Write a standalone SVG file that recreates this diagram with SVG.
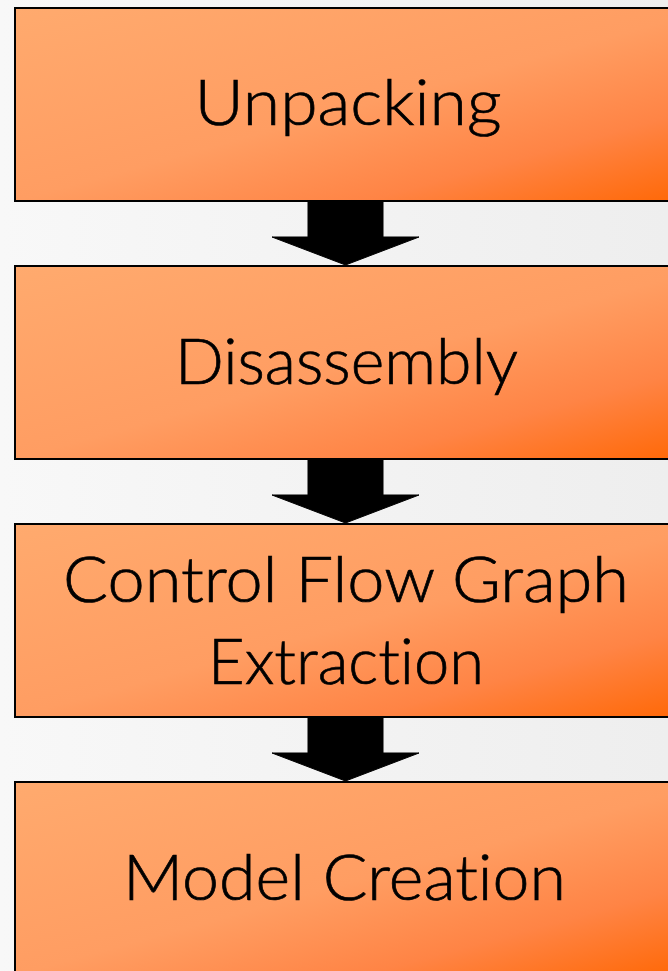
<svg xmlns="http://www.w3.org/2000/svg" width="668" height="971" viewBox="0 0 668 971">
  <defs>
    <linearGradient id="bg" x1="0" y1="0" x2="1" y2="0">
      <stop offset="0" stop-color="#F8F8F8"/>
      <stop offset="1" stop-color="#EEEEEE"/>
    </linearGradient>
    <linearGradient id="boxFill" x1="0" y1="0" x2="1" y2="1">
      <stop offset="0" stop-color="#FFAA6E"/>
      <stop offset="0.5" stop-color="#FF9D62"/>
      <stop offset="0.75" stop-color="#FF8445"/>
      <stop offset="1" stop-color="#FF6500"/>
    </linearGradient>
    <polygon id="downArrow" points="308,0 383,0 383,36 419,36 345.5,64 272,36 308,36"/>
  </defs>
  <style>
    .box { fill: url(#boxFill); stroke: #000; stroke-width: 2; }
    .label { font-family: "Lato", "Open Sans", "Liberation Sans", sans-serif; font-weight: 300; font-size: 63px; fill: #000; stroke: #000; stroke-width: 0.7; text-anchor: middle; font-variant-ligatures: none; font-feature-settings: "liga" 0, "clig" 0; }
    .arrow { fill: #000; stroke: #000; stroke-width: 1; stroke-linejoin: miter; }
  </style>

  <rect x="0" y="0" width="668" height="971" fill="url(#bg)"/>

  <g id="unpacking">
    <rect class="box" x="15" y="8" width="700" height="193"/>
    <text class="label" x="348" y="125" textLength="307" lengthAdjust="spacingAndGlyphs">Unpacking</text>
  </g>

  <g id="disassembly">
    <rect class="box" x="15" y="266" width="700" height="193"/>
    <text class="label" x="346.5" y="384" textLength="343" lengthAdjust="spacingAndGlyphs">Disassembly</text>
  </g>

  <g id="cfg-extraction">
    <rect class="box" x="15" y="524" width="700" height="193"/>
    <text class="label" x="346" y="602" textLength="566" lengthAdjust="spacingAndGlyphs">Control Flow Graph</text>
    <text class="label" x="346" y="684" textLength="276" lengthAdjust="spacingAndGlyphs">Extraction</text>
  </g>

  <g id="model-creation">
    <rect class="box" x="15" y="782" width="700" height="193"/>
    <text class="label" x="344.5" y="900" textLength="443" lengthAdjust="spacingAndGlyphs">Model Creation</text>
  </g>

  <g id="connectors">
    <use class="arrow" href="#downArrow" y="201"/>
    <use class="arrow" href="#downArrow" y="459"/>
    <use class="arrow" href="#downArrow" y="717"/>
  </g>
</svg>
